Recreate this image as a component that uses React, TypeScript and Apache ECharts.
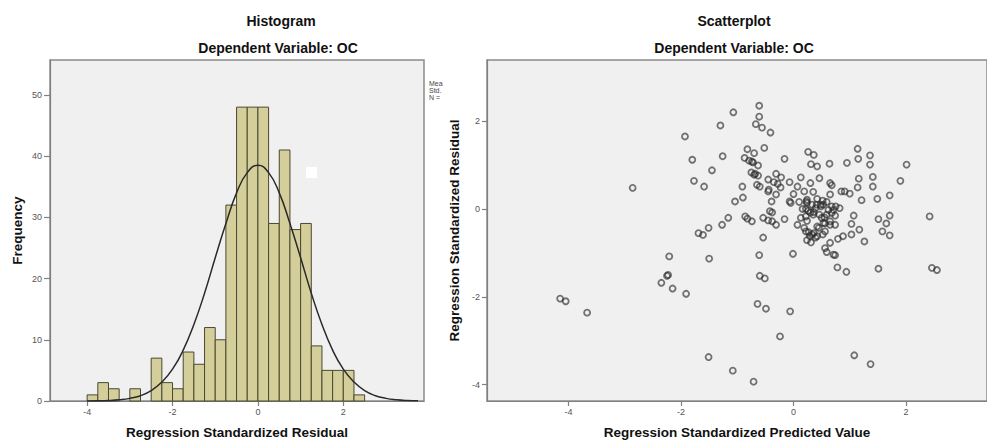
import React, { useEffect, useRef } from "react";
import * as echarts from "echarts";

// ---------- Histogram data ----------
const binStarts = [
  -4, -3.75, -3.5, -3.25, -3, -2.75, -2.5, -2.25, -2, -1.75, -1.5, -1.25, -1,
  -0.75, -0.5, -0.25, 0, 0.25, 0.5, 0.75, 1, 1.25, 1.5, 1.75, 2, 2.25,
];
const binWidth = 0.25;
const binCounts = [
  1, 3, 2, 0, 2, 0, 7, 3, 2, 8, 6, 12, 10, 32, 48, 48, 48, 29, 41, 28, 29, 9,
  5, 5, 5, 1,
];
// normal curve, values
const curveX = [
  -4, -3.75, -3.5, -3.25, -3, -2.75, -2.5, -2.25, -2, -1.75, -1.5, -1.25, -1,
  -0.75, -0.5, -0.25, 0, 0.25, 0.5, 0.75, 1, 1.25, 1.5, 1.75, 2, 2.25, 2.5,
  2.75, 3, 3.25, 3.5, 3.75,
];
const curveY = [
  0.01, 0.03, 0.08, 0.2, 0.43, 0.87, 1.7, 3.1, 5.2, 8.3, 12.5, 17.6, 23.4, 29.0,
  34.0, 37.3, 38.5, 37.3, 34.0, 29.0, 23.4, 17.6, 12.5, 8.3, 5.2, 3.1, 1.7,
  0.87, 0.43, 0.2, 0.08, 0.03,
];
const histXTicks = [-4, -2, 0, 2];
const histYTicks = [0, 10, 20, 30, 40, 50];

// ---------- Scatter data ----------
const scatterPoints: number[][] = [
  [-1.93, 1.65], [-1.8, 1.12], [-1.45, 0.88], [-1.77, 0.64], [-1.59, 0.51],
  [-2.86, 0.48], [-1.69, -0.55], [-1.61, -0.59], [-1.51, -0.43],
  [-1.07, 2.2], [-1.3, 1.9], [-1.26, 1.2], [-0.91, 0.51], [-0.9, 0.26], [-1.04, 0.17],
  [-0.61, 2.35], [-0.61, 2.1], [-0.67, 1.93], [-0.56, 1.85], [-0.41, 1.74],
  [-0.52, 1.39], [-0.82, 1.36], [-0.7, 1.27], [-0.87, 1.16], [-0.79, 1.1],
  [-0.74, 1.08], [-0.72, 1.06], [-0.63, 0.99], [-0.16, 1.14], [0.26, 1.3], [0.36, 1.23],
  [0.31, 1.02], [0.42, 0.97], [0.64, 1.03], [-0.75, 0.83], [-0.7, 0.78], [-0.68, 0.8],
  [-0.63, 0.76], [-0.31, 0.8], [-0.22, 0.72], [-0.45, 0.67], [-0.35, 0.61],
  [-0.28, 0.57], [-0.07, 0.61], [0.13, 0.72], [0.3, 0.59], [0.46, 0.7],
  [0.65, 0.59], [0.68, 0.54], [-0.65, 0.55], [-0.6, 0.51], [-0.45, 0.4],
  [-0.31, 0.33], [0.07, 0.51], [0.0, 0.34], [0.19, 0.4], [0.35, 0.39],
  [0.24, 0.21], [0.42, 0.23], [0.52, 0.19], [0.65, 0.33], [-0.39, 0.17],
  [-0.07, 0.17], [0.1, 0.16], [0.85, 0.4],
  [0.95, 1.05], [1.14, 1.37], [1.15, 1.14], [1.36, 1.22], [1.36, 1.01],
  [2.01, 1.01], [1.16, 0.69], [1.41, 0.73], [1.41, 0.51], [1.14, 0.49],
  [0.91, 0.4], [1.0, 0.35], [1.9, 0.64], [1.71, 0.31], [1.49, 0.23],
  [1.21, 0.2], [2.42, -0.17], [1.71, -0.15], [1.65, -0.33], [1.58, -0.51],
  [1.71, -0.6], [1.51, -0.23], [1.26, -0.74], [1.07, -0.15], [1.03, -0.34],
  [1.17, -0.47], [1.03, -0.58], [0.88, -0.62], [0.79, -0.68], [0.65, -0.77],
  [0.75, 0.06], [0.82, 0.02], [0.71, -0.02], [0.62, -0.02], [0.53, 0.1],
  [0.48, 0.1], [0.59, -0.13], [0.5, -0.2], [0.65, -0.36], [0.56, -0.33],
  [0.42, -0.4], [0.56, -0.51], [0.24, 0.14], [0.33, 0.1], [0.22, 0.0],
  [0.3, -0.08], [0.39, 0.02], [0.22, -0.17], [0.13, -0.2], [0.35, -0.13],
  [0.07, -0.36], [0.22, -0.51], [0.27, -0.53], [0.33, -0.58], [0.42, -0.62],
  [0.24, -0.71], [0.31, -0.76], [-0.05, 0.14], [-0.16, -0.23], [-0.31, -0.36],
  [-0.38, -0.28], [-0.45, -0.26], [-0.38, -0.08], [-0.54, -0.2], [-0.54, -0.65],
  [-0.23, 0.49], [-0.44, 0.44], [-0.86, -0.17], [-0.74, -0.28], [-1.16, -0.2],
  [-1.27, -0.36],
  [-2.21, -1.08], [-1.5, -1.13], [-2.25, -1.52], [-2.23, -1.5], [-2.35, -1.68],
  [-2.15, -1.81], [-1.91, -1.93],
  [-1.51, -3.37], [-4.15, -2.04], [-4.05, -2.1], [-3.67, -2.36],
  [-0.61, -1.05], [-0.01, -1.02], [-0.6, -1.52], [-0.51, -1.58], [-0.64, -2.16],
  [-0.49, -2.27], [-0.06, -2.33], [-0.24, -2.9], [-1.08, -3.68], [-0.71, -3.93],
  [1.08, -3.33], [1.37, -3.53], [2.46, -1.34], [2.55, -1.39], [1.51, -1.36],
  [0.78, -1.33], [0.94, -1.43], [0.59, -0.98], [0.74, -1.05],
  [-0.82, -0.22], [-0.42, -0.05], [0.23, 0.17], [0.41, 0.1], [0.49, 0.06],
  [0.59, 0.16], [0.68, 0.06], [0.16, 0.0], [0.26, -0.04], [0.36, -0.07],
  [0.46, -0.13], [0.55, -0.19], [0.68, -0.09], [0.74, -0.15], [0.24, -0.27],
  [0.19, -0.43], [0.36, -0.55], [0.29, -0.62], [0.39, -0.65], [0.45, -0.43],
  [0.53, -0.32], [0.65, -0.28], [0.74, -0.36], [0.52, -0.58], [0.56, -0.89],
  [0.71, -1.04],
];
const scatterXTicks = [-4, -2, 0, 2];
const scatterYTicks = [-4, -2, 0, 2];

const FONT = '"Liberation Sans", Arial, sans-serif';

export default function App() {
  const ref = useRef<HTMLDivElement>(null);

  useEffect(() => {
    if (!ref.current) return;
    const chart = echarts.init(ref.current, undefined, { renderer: "svg" });

    const axisLabelStyle = { fontSize: 9, color: "#555", fontFamily: FONT };
    const nameStyle = { fontSize: 13.5, fontWeight: "bold" as const, color: "#111", fontFamily: FONT };
    const lineStyle = { color: "#808080", width: 1.2 };
    const titleFont = `bold 14px ${FONT}`;

    const option: any = {
      animation: false,
      backgroundColor: "#ffffff",
      grid: [
        {
          left: 50, top: 60, width: 374, height: 341,
          show: true, backgroundColor: "#f0f0f0", borderColor: "#8a8a8a", borderWidth: 1.5,
        },
        {
          left: 487, top: 60, width: 510, height: 342,
          show: true, backgroundColor: "#f0f0f0", borderColor: "#8a8a8a", borderWidth: 1.5,
        },
      ],
      xAxis: [
        {
          type: "value", gridIndex: 0, min: -4.87, max: 3.89,
          splitLine: { show: false },
          axisLine: { show: true, onZero: false, lineStyle },
          axisTick: { show: true, length: 5, customValues: histXTicks, lineStyle },
          axisLabel: { ...axisLabelStyle, margin: 6, customValues: histXTicks },
          name: "Regression Standardized Residual",
          nameLocation: "middle", nameGap: 24, nameTextStyle: nameStyle,
        },
        {
          type: "value", gridIndex: 1, min: -5.45, max: 3.44,
          splitLine: { show: false },
          axisLine: { show: true, onZero: false, lineStyle },
          axisTick: { show: true, length: 5, customValues: scatterXTicks, lineStyle },
          axisLabel: { ...axisLabelStyle, margin: 6, customValues: scatterXTicks },
          name: "Regression Standardized Predicted Value",
          nameLocation: "middle", nameGap: 24, nameTextStyle: nameStyle,
        },
      ],
      yAxis: [
        {
          type: "value", gridIndex: 0, min: 0, max: 55.7,
          splitLine: { show: false },
          axisLine: { show: true, onZero: false, lineStyle },
          axisTick: { show: true, length: 6, customValues: histYTicks, lineStyle },
          axisLabel: { ...axisLabelStyle, margin: 8, customValues: histYTicks },
          name: "Frequency",
          nameLocation: "middle", nameGap: 26, nameTextStyle: nameStyle,
        },
        {
          type: "value", gridIndex: 1, min: -4.37, max: 3.39,
          splitLine: { show: false },
          axisLine: { show: true, onZero: false, lineStyle },
          axisTick: { show: true, length: 5, customValues: scatterYTicks, lineStyle },
          axisLabel: { ...axisLabelStyle, margin: 7, customValues: scatterYTicks },
          name: "Regression Standardized Residual",
          nameLocation: "middle", nameGap: 20, nameTextStyle: nameStyle,
        },
      ],
      series: [
        {
          type: "custom",
          xAxisIndex: 0, yAxisIndex: 0,
          encode: { x: [0, 1], y: 2 },
          data: binStarts.map((s, i) => [s, s + binWidth, binCounts[i]]),
          renderItem: (params: any, api: any) => {
            const c = api.value(2);
            if (!c) return null;
            const p0 = api.coord([api.value(0), c]);
            const p1 = api.coord([api.value(1), 0]);
            return {
              type: "rect",
              shape: { x: p0[0], y: p0[1], width: p1[0] - p0[0], height: p1[1] - p0[1] },
              style: { fill: "#d4ce9a", stroke: "#4a4830", lineWidth: 1 },
            };
          },
          z: 2,
        },
        {
          type: "line",
          xAxisIndex: 0, yAxisIndex: 0,
          data: curveX.map((x, i) => [x, curveY[i]]),
          smooth: true,
          showSymbol: false,
          symbol: "none",
          lineStyle: { color: "#2a2a2a", width: 1.5 },
          z: 3,
        },
        {
          type: "scatter",
          xAxisIndex: 1, yAxisIndex: 1,
          data: scatterPoints,
          symbol: "circle",
          symbolSize: 6,
          itemStyle: { color: "rgba(0,0,0,0)", borderColor: "rgba(40,40,40,0.8)", borderWidth: 1.8 },
          z: 3,
        },
      ],
      graphic: [
        { type: "text", x: 281, y: 21, style: { text: "Histogram", font: titleFont, fill: "#111", textAlign: "center", textVerticalAlign: "middle" } },
        { type: "text", x: 278, y: 48, style: { text: "Dependent Variable: OC", font: titleFont, fill: "#111", textAlign: "center", textVerticalAlign: "middle" } },
        { type: "text", x: 734, y: 21, style: { text: "Scatterplot", font: titleFont, fill: "#111", textAlign: "center", textVerticalAlign: "middle" } },
        { type: "text", x: 734, y: 48, style: { text: "Dependent Variable: OC", font: titleFont, fill: "#111", textAlign: "center", textVerticalAlign: "middle" } },
        { type: "text", x: 429, y: 83, style: { text: "Mea", font: `7px ${FONT}`, fill: "#444", textAlign: "left", textVerticalAlign: "middle" } },
        { type: "text", x: 429, y: 90, style: { text: "Std.", font: `7px ${FONT}`, fill: "#444", textAlign: "left", textVerticalAlign: "middle" } },
        { type: "text", x: 429, y: 97, style: { text: "N =", font: `7px ${FONT}`, fill: "#444", textAlign: "left", textVerticalAlign: "middle" } },
        { type: "rect", shape: { x: 306, y: 167, width: 11, height: 11 }, style: { fill: "#ffffff" }, z: 10 },
      ],
    };

    chart.setOption(option);
    return () => chart.dispose();
  }, []);

  return (
    <div
      ref={ref}
      style={{ position: "absolute", left: 0, top: 0, width: 987, height: 444, overflow: "hidden" }}
    />
  );
}
